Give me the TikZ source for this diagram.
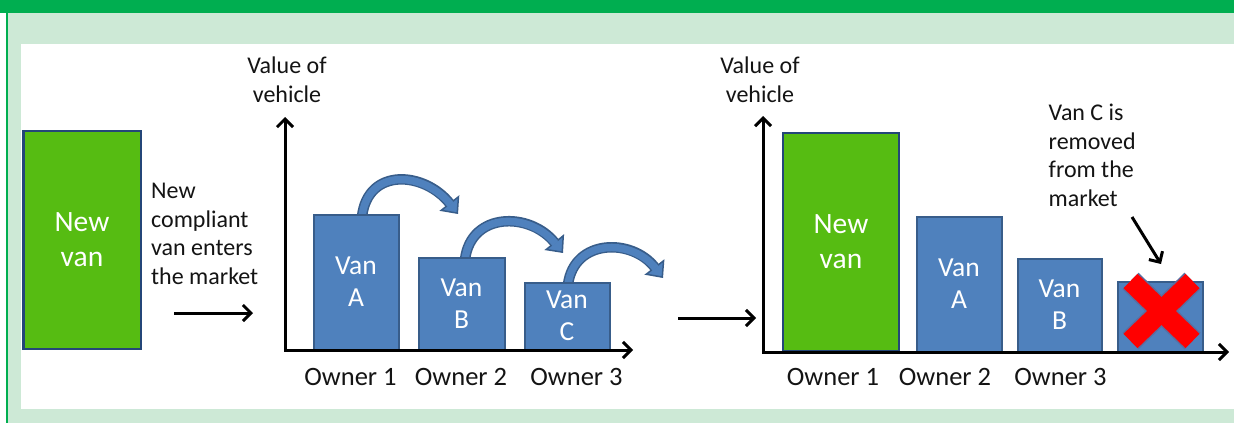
\documentclass[tikz,border=0pt]{standalone}
\usepackage{fontspec}
\setmainfont{Carlito}
\usetikzlibrary{arrows.meta,backgrounds}
\definecolor{darkgreen}{RGB}{0,174,80}
\definecolor{lightgreen}{RGB}{205,233,214}
\definecolor{newfill}{RGB}{86,188,18}
\definecolor{newborder}{RGB}{36,70,120}
\definecolor{vanfill}{RGB}{79,129,189}
\definecolor{vanborder}{RGB}{56,93,138}
\definecolor{xborder}{RGB}{90,110,160}
\definecolor{xred}{RGB}{255,0,0}
\definecolor{txt}{RGB}{20,20,20}
\begin{document}
\begin{tikzpicture}[x=1pt,y=-1pt,
  newbox/.style={draw=newborder, fill=newfill, line width=2.5pt, inner sep=0pt, text=white, align=center, font=\fontsize{29.5}{35}\selectfont},
  vanbox/.style={draw=vanborder, fill=vanfill, line width=2pt, inner sep=0pt, text=white, align=center, font=\fontsize{27.5}{32}\selectfont},
  lbl/.style={inner sep=0pt, text=txt, font=\fontsize{24}{28.5}\selectfont},
  owner/.style={inner sep=0pt, anchor=base, text=txt, font=\fontsize{26.5}{30}\selectfont},
  axisline/.style={line width=3pt, line join=miter, {Straight Barb[length=8pt,width=16pt]}-{Straight Barb[length=8pt,width=16pt]}},
  blackarrow/.style={line width=3pt, -{Straight Barb[length=8pt,width=16pt]}},
  carrowout/.style={line width=10.5pt, draw=vanborder, -{Triangle[length=14pt,width=25pt,line width=1.5pt,fill=vanfill]}},
  carrowin/.style={line width=7.5pt, draw=vanfill, shorten >=12pt},
  xout/.style={line width=23pt, draw=xborder},
  xin/.style={line width=20pt, draw=xred}
]
\useasboundingbox (0,0) rectangle (1234,423);
\begin{scope}[on background layer]
  \fill[white] (0,0) rectangle (1234,423);
  \fill[darkgreen] (0,0) rectangle (1234,13);
  \fill[darkgreen] (6,13) rectangle (8,423);
  \fill[lightgreen] (8,13) rectangle (1234,423);
  \fill[white] (21,44) rectangle (1234,409);
\end{scope}

% ---------- left: new van ----------
\node[newbox, minimum width=117.5pt, minimum height=218pt] (nv1) at (82,240) {New\\van};
\node[lbl, anchor=north west, align=left] (entertxt) at (151,183) {New\\compliant\\van enters\\the market};
\coordinate (e1s) at (174,313);
\coordinate (e1e) at (253,313);
\draw[blackarrow] (e1s) -- (e1e);

% ---------- middle chart ----------
\node[lbl, anchor=north, align=center] (yl1) at (287,57) {Value of\\vehicle};
\node[vanbox, minimum width=85pt, minimum height=135pt] (vA1) at (356,282) {Van\\A};
\node[vanbox, minimum width=86pt, minimum height=92pt] (vB1) at (461.5,303.5) {Van\\B};
\node[vanbox, minimum width=85pt, minimum height=67pt] (vC1) at (567,316) {Van\\C};
\coordinate (o1) at (285,350);
\coordinate (y1) at (285,117);
\coordinate (x1) at (633,350);
\draw[axisline] (y1) -- (o1) -- (x1);
\node[owner] (ow11) at (350.5,385) {Owner 1};
\node[owner] (ow12) at (461,385) {Owner 2};
\node[owner] (ow13) at (576.5,385) {Owner 3};

\coordinate (t1) at (458,214);
\coordinate (t2) at (563,253);
\coordinate (t3) at (663,278);
\begin{scope}[on background layer]
  \draw[carrowout] ([xshift=6pt,yshift=-3pt]vA1.north) .. controls +(6,-50) and +(-33,-42) .. (t1);
  \draw[carrowin]  ([xshift=6pt,yshift=-3pt]vA1.north) .. controls +(6,-50) and +(-33,-42) .. (t1);
  \draw[carrowout] ([xshift=3.5pt,yshift=-3pt]vB1.north) .. controls +(6,-48) and +(-33,-41) .. (t2);
  \draw[carrowin]  ([xshift=3.5pt,yshift=-3pt]vB1.north) .. controls +(6,-48) and +(-33,-41) .. (t2);
  \draw[carrowout] ([xshift=1pt,yshift=-3pt]vC1.north) .. controls +(6,-46) and +(-31,-40) .. (t3);
  \draw[carrowin]  ([xshift=1pt,yshift=-3pt]vC1.north) .. controls +(6,-46) and +(-31,-40) .. (t3);
\end{scope}

\coordinate (e2s) at (678,318);
\coordinate (e2e) at (756,318);
\draw[blackarrow] (e2s) -- (e2e);

% ---------- right chart ----------
\node[lbl, anchor=north, align=center] (yl2) at (760,57) {Value of\\vehicle};
\node[newbox, minimum width=116pt, minimum height=218pt] (nv2) at (841,242) {New\\van};
\node[vanbox, minimum width=85pt, minimum height=135pt] (vA2) at (959,284) {Van\\A};
\node[vanbox, minimum width=84pt, minimum height=93pt] (vB2) at (1059.5,305) {Van\\B};
\node[vanbox, minimum width=85pt, minimum height=70pt] (vC2) at (1160,316.5) {};
\coordinate (o2) at (763,352);
\coordinate (y2) at (763,116);
\coordinate (x2) at (1229,352);
\draw[axisline] (y2) -- (o2) -- (x2);
\node[owner] (ow21) at (833,385) {Owner 1};
\node[owner] (ow22) at (945,385) {Owner 2};
\node[owner] (ow23) at (1060.5,385) {Owner 3};

% red cross
\coordinate (xa) at (1130.5,281);
\coordinate (xb) at (1192.5,341);
\coordinate (xc) at (1192.5,281);
\coordinate (xd) at (1130.5,341);
\draw[xout] (xa) -- (xb);
\draw[xout] (xc) -- (xd);
\draw[xin] (xa) -- (xb);
\draw[xin] (xc) -- (xd);

\node[lbl, anchor=north west, align=left] (vctxt) at (1048.5,104) {Van C is\\removed\\from the\\market};
\coordinate (r1s) at (1132,217);
\coordinate (r1e) at (1161,264);
\draw[blackarrow] (r1s) -- (r1e);
\end{tikzpicture}
\end{document}
